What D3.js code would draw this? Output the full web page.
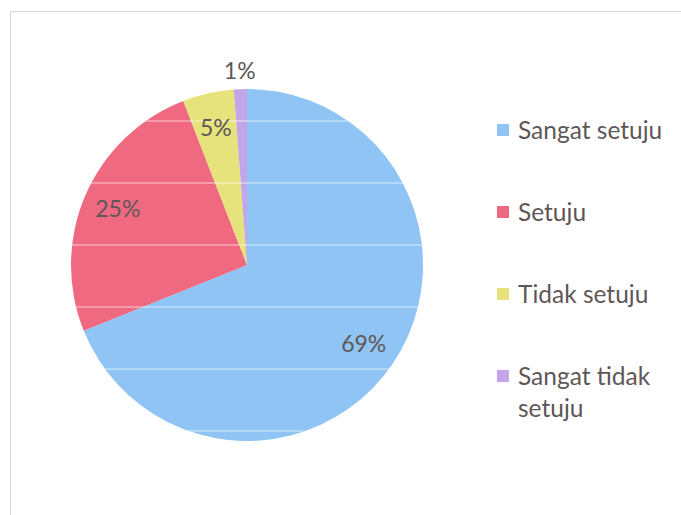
<!DOCTYPE html>
<meta charset="utf-8">
<script src="https://d3js.org/d3.v7.min.js"></script>
<style>
  body { margin: 0; background: #fff; }
  text { font-family: Lato, "Noto Sans", sans-serif; fill: #5f5757; }
</style>
<div id="chart"></div>
<script>

// data
var categories = ["Sangat setuju", "Setuju", "Tidak setuju", "Sangat tidak setuju"];
var values = [68.9, 25.2, 4.7, 1.2];
var labels = ["69%", "25%", "5%", "1%"];
var colors = ["#8fc4f4", "#ef6a80", "#e6e27c", "#c3a6e9"];

var width = 681, height = 515;
var cx = 247, cy = 265, radius = 176;

var svg = d3.select("#chart")
  .append("svg")
    .attr("width", width)
    .attr("height", height);

// chart area border (only top and left visible in the scan)
svg.append("rect")
  .attr("x", 10.5)
  .attr("y", 11.5)
  .attr("width", 720)
  .attr("height", 540)
  .attr("fill", "none")
  .attr("stroke", "#d6d6d6")
  .attr("stroke-width", 1);

var data = categories.map(function(c, i) {
  return { name: c, value: values[i], label: labels[i], color: colors[i] };
});

var pie = d3.pie()
  .sort(null)
  .value(function(d) { return d.value; });

var arc = d3.arc()
  .innerRadius(0)
  .outerRadius(radius);

var labelArc = d3.arc()
  .innerRadius(radius * 0.8)
  .outerRadius(radius * 0.8);

var outerLabelArc = d3.arc()
  .innerRadius(radius + 18)
  .outerRadius(radius + 18);

var g = svg.append("g")
  .attr("transform", "translate(" + cx + "," + cy + ")");

var arcs = pie(data);

g.selectAll("path.slice")
  .data(arcs)
  .enter()
  .append("path")
    .attr("class", "slice")
    .attr("d", arc)
    .attr("fill", function(d) { return d.data.color; });

// faint light bands that run across the pie in the scan
g.append("clipPath")
  .attr("id", "pieclip")
  .append("circle")
    .attr("r", radius);

g.append("g")
  .attr("clip-path", "url(#pieclip)")
  .selectAll("line")
  .data(d3.range(6))
  .enter()
  .append("line")
    .attr("x1", -radius)
    .attr("x2", radius)
    .attr("y1", function(i) { return -144 + i * 62; })
    .attr("y2", function(i) { return -144 + i * 62; })
    .attr("stroke", "#ffffff")
    .attr("stroke-opacity", 0.45)
    .attr("stroke-width", 1.5);

// slice labels, the tiny one sits outside
g.selectAll("text.lbl")
  .data(arcs)
  .enter()
  .append("text")
    .attr("class", "lbl")
    .attr("transform", function(d) {
      var small = (d.endAngle - d.startAngle) < 0.15;
      var p = small ? outerLabelArc.centroid(d) : labelArc.centroid(d);
      return "translate(" + p + ")";
    })
    .attr("text-anchor", "middle")
    .attr("dy", "0.35em")
    .style("font-size", "23px")
    .text(function(d) { return d.data.label; });

// legend
var legend = svg.append("g")
  .attr("transform", "translate(497,0)");

var item = legend.selectAll("g")
  .data(data)
  .enter()
  .append("g")
    .attr("transform", function(d, i) { return "translate(0," + (130 + i * 82) + ")"; });

item.append("rect")
  .attr("x", 0)
  .attr("y", -6)
  .attr("width", 12)
  .attr("height", 12)
  .attr("fill", function(d) { return d.color; });

item.append("text")
  .attr("x", 21)
  .attr("dy", "0.35em")
  .style("font-size", "24.5px")
  .each(function(d) {
    var t = d3.select(this);
    var words = d.name.split(" ");
    if (words.length > 2) {
      t.append("tspan").attr("x", 21).text(words.slice(0, 2).join(" "));
      t.append("tspan").attr("x", 21).attr("dy", "32").text(words.slice(2).join(" "));
    } else {
      t.text(d.name);
    }
  });

</script>
